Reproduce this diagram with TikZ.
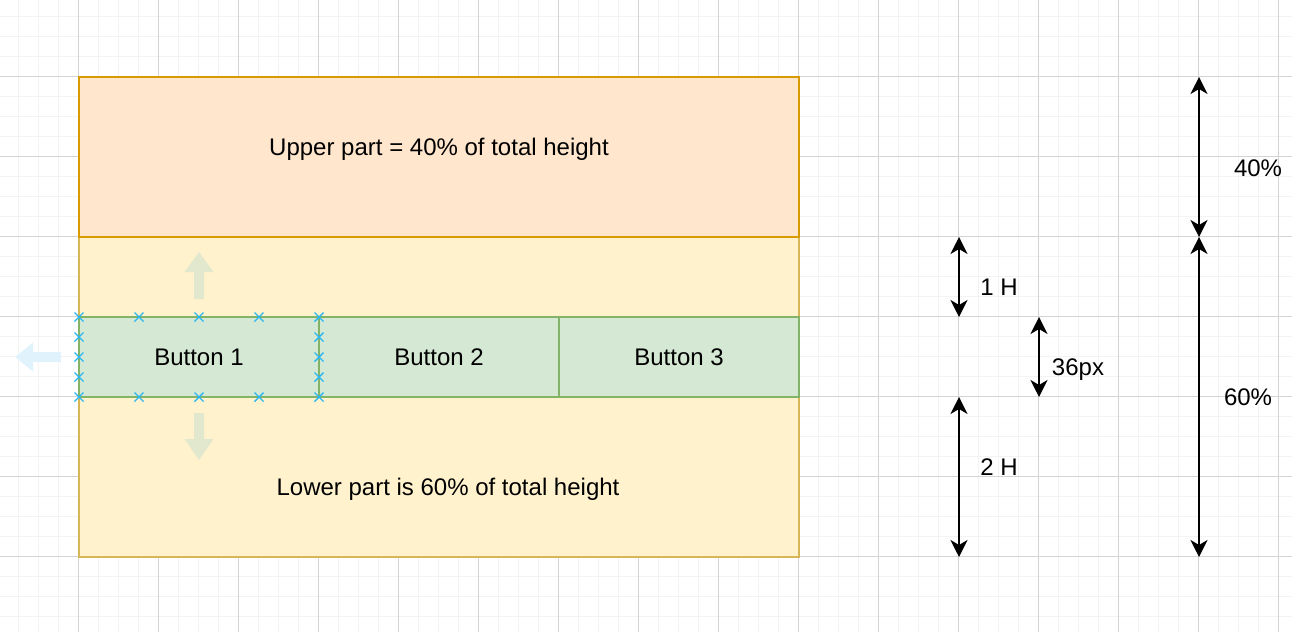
\documentclass[tikz,border=0pt]{standalone}
\usepackage{fontspec}
\setmainfont{Liberation Sans}
\usetikzlibrary{arrows.meta}
\definecolor{gridminor}{HTML}{F3F3F3}
\definecolor{gridmajor}{HTML}{D4D4D4}
\definecolor{upfill}{HTML}{FFE6CC}
\definecolor{updraw}{HTML}{D79B00}
\definecolor{lofill}{HTML}{FFF2CC}
\definecolor{lodraw}{HTML}{D6B656}
\definecolor{btfill}{HTML}{D5E8D4}
\definecolor{btdraw}{HTML}{82B366}
\definecolor{handle}{HTML}{29B6F2}
\definecolor{ghostgreen}{HTML}{E1E8CE}
\definecolor{ghostblue}{HTML}{E0F3FD}
\tikzset{
  lbl/.style={font=\fontsize{24}{28}\selectfont, inner sep=0pt, anchor=base},
  part/.style={draw, line width=1.5pt, inner sep=0pt, minimum width=720pt},
  btn/.style={draw=btdraw, fill=btfill, line width=1.5pt, inner sep=0pt, minimum width=240pt, minimum height=80pt},
  dim/.style={line width=2pt, {Stealth[length=17pt,width=17pt,inset=5pt]}-{Stealth[length=17pt,width=17pt,inset=5pt]}},
  hx/.style={draw=handle, line width=1.4pt},
}
\begin{document}
\begin{tikzpicture}[x=1pt,y=-1pt]
\useasboundingbox (0,0) rectangle (1292,632);
% grid
\foreach \i in {0,...,64} {\draw[gridminor, line width=1.5pt] (18.5+\i*20,0) -- (18.5+\i*20,632);}
\foreach \j in {0,...,31} {\draw[gridminor, line width=1.5pt] (0,16.5+\j*20) -- (1292,16.5+\j*20);}
\foreach \i in {0,...,16} {\draw[gridmajor, line width=0.9pt] (78.5+\i*80,0) -- (78.5+\i*80,632);}
\foreach \j in {0,...,7} {\draw[gridmajor, line width=0.9pt] (0,76.5+\j*80) -- (1292,76.5+\j*80);}
% parts
\node[part, draw=lodraw, fill=lofill, minimum height=320pt] (lower) at (439,397) {};
\node[part, draw=updraw, fill=upfill, minimum height=160pt] (upper) at (439,157) {};
\node[lbl] (uptext) at (439,155) {Upper part = 40\% of total height};
% buttons
\node[btn] (b1) at (199,357) {};
\node[btn] (b2) at (439,357) {};
\node[btn] (b3) at (679,357) {};
\node[lbl] (b1t) at (199,365) {Button 1};
\node[lbl] (b2t) at (439,365) {Button 2};
\node[lbl] (b3t) at (679,365) {Button 3};
\node[lbl] (lotext) at (448,495) {Lower part is 60\% of total height};
% ghost arrows
\fill[ghostgreen] (199,252) -- (213.5,272) -- (204,272) -- (204,299) -- (194,299) -- (194,272) -- (184.5,272) -- cycle;
\fill[ghostgreen] (199,460) -- (213.5,439) -- (204,439) -- (204,413) -- (194,413) -- (194,439) -- (184.5,439) -- cycle;
\fill[ghostblue] (15,357) -- (33,342.5) -- (33,352) -- (61,352) -- (61,362) -- (33,362) -- (33,371.5) -- cycle;
% handles
\foreach \x in {79,139,199,259,319} {
  \foreach \y in {317,397} {\draw[hx] (\x-4.5,\y-4.5) -- (\x+4.5,\y+4.5) (\x-4.5,\y+4.5) -- (\x+4.5,\y-4.5);}
}
\foreach \x in {79,319} {
  \foreach \y in {337,357,377} {\draw[hx] (\x-4.5,\y-4.5) -- (\x+4.5,\y+4.5) (\x-4.5,\y+4.5) -- (\x+4.5,\y-4.5);}
}
% dimension coordinates
\coordinate (h1a) at (959,237);
\coordinate (h1b) at (959,317);
\coordinate (pxa) at (1039,317);
\coordinate (pxb) at (1039,397);
\coordinate (h2a) at (959,397);
\coordinate (h2b) at (959,557);
\coordinate (p4a) at (1199,77);
\coordinate (p4b) at (1199,237);
\coordinate (p6a) at (1199,237);
\coordinate (p6b) at (1199,557);
\draw[dim] (h1a) -- (h1b);
\draw[dim] (pxa) -- (pxb);
\draw[dim] (h2a) -- (h2b);
\draw[dim] (p4a) -- (p4b);
\draw[dim] (p6a) -- (p6b);
\node[lbl] (l1) at (999,295) {1 H};
\node[lbl] (l36) at (1078,375) {36px};
\node[lbl] (l2) at (999,475) {2 H};
\node[lbl] (l40) at (1258,176) {40\%};
\node[lbl] (l60) at (1248,405) {60\%};
\end{tikzpicture}
\end{document}
